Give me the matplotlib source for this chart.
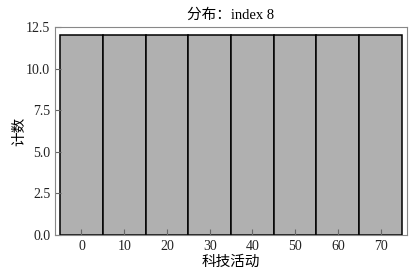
import matplotlib
matplotlib.use("Agg")
import matplotlib.pyplot as plt

# data
bin_centers = [0, 10, 20, 30, 40, 50, 60, 70]
counts = [12, 12, 12, 12, 12, 12, 12, 12]
bin_width = 10

plt.rcParams['font.family'] = ['Liberation Serif', 'Noto Sans CJK SC']
plt.rcParams['axes.unicode_minus'] = False

fig = plt.figure(figsize=(4.14, 2.76), dpi=100)
ax = fig.add_axes([55 / 414, 1 - 235 / 276, 352 / 414, 208 / 276])

ax.bar(bin_centers, counts, width=bin_width, color='#b0b0b0',
       edgecolor='black', linewidth=1.1)

ax.set_xlim(-6.2, 76.2)
ax.set_ylim(0, 12.5)
ax.set_xticks(bin_centers)
ax.set_yticks([0, 2.5, 5.0, 7.5, 10.0, 12.5])
ax.set_yticklabels(['0.0', '2.5', '5.0', '7.5', '10.0', '12.5'])

for s in ax.spines.values():
    s.set_color('#888888')
    s.set_linewidth(0.8)
ax.tick_params(direction='in', length=4, width=0.8, color='#666666',
               labelsize=10, labelcolor='#222222')

ax.set_title('分布：index 8', fontsize=10.5, pad=6)
ax.set_xlabel('科技活动', fontsize=10.5, labelpad=2)
ax.set_ylabel('计数', fontsize=10.5, labelpad=0)
ax.yaxis.set_label_coords(-0.082, 0.5)

fig.savefig('out.png', dpi=100)
